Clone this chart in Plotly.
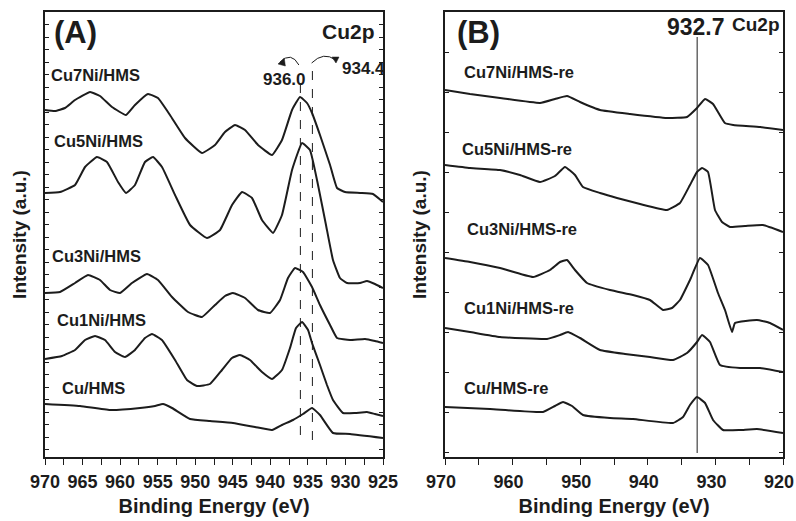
import plotly.graph_objects as go

# ---------------- Panel A data (Binding energy eV, intensity a.u.) ----------------
a_cu7ni_ev = [970.0, 968.67, 967.34, 966.0, 964.0, 962.68, 961.08, 959.22, 958.02, 956.29, 954.96, 953.36,
              951.36, 949.10, 947.37, 946.04, 944.70, 943.37, 941.64, 939.78, 938.45, 937.11, 936.05, 935.12,
              934.45, 933.39, 932.05, 931.12, 930.05, 928.06, 926.33, 925.0]
a_cu7ni_int = [347, 346, 349, 357, 365, 361, 350, 342, 352, 363, 359, 342, 319, 304, 312, 325, 332, 327, 312,
               302, 317, 347, 360, 354, 344, 322, 292, 269, 265, 264, 263, 255]

a_cu5ni_ev = [970.0, 968.0, 966.0, 964.67, 963.08, 961.75, 960.28, 959.22, 958.02, 956.69, 955.62, 954.42,
              952.69, 950.69, 948.43, 946.70, 945.10, 943.77, 942.44, 941.11, 939.64, 938.45, 937.11, 935.78,
              934.72, 933.65, 932.59, 931.66, 930.73, 929.79, 928.06, 927.13, 926.07, 925.0]
a_cu5ni_int = [264, 265, 272, 290, 300, 295, 275, 264, 272, 295, 300, 290, 262, 232, 219, 227, 252, 265, 259,
               237, 224, 242, 287, 314, 307, 272, 232, 197, 179, 174, 174, 176, 173, 169]

a_cu3ni_ev = [970.0, 968.0, 966.0, 964.27, 962.68, 961.35, 960.01, 958.42, 956.42, 954.96, 953.09, 950.96,
              949.10, 947.37, 946.04, 944.97, 943.37, 941.64, 940.04, 938.71, 937.65, 936.71, 935.65, 934.45,
              933.39, 932.05, 931.12, 929.39, 927.39, 926.07, 925.0]
a_cu3ni_int = [164, 165, 174, 182, 177, 167, 164, 174, 183, 177, 160, 145, 140, 152, 161, 164, 159, 147, 144,
               157, 179, 189, 185, 170, 152, 132, 119, 117, 118, 116, 114]

a_cu1ni_ev = [970.0, 967.74, 966.0, 964.67, 963.34, 962.01, 960.68, 959.35, 958.02, 956.69, 955.76, 954.43,
              952.69, 951.10, 949.77, 948.04, 946.44, 945.11, 944.04, 942.71, 941.11, 939.78, 938.45, 937.38,
              936.58, 935.78, 934.98, 934.45, 933.39, 932.46, 931.66, 930.33, 928.73, 927.13, 926.07, 925.0]
a_cu1ni_int = [98, 101, 107, 117, 121, 117, 105, 100, 107, 119, 123, 117, 97, 77, 71, 73, 87, 99, 102, 97, 85,
               78, 87, 109, 129, 135, 127, 114, 92, 72, 57, 44, 44, 45, 43, 41]

a_cu_ev = [970.0, 965.34, 961.35, 957.35, 955.35, 954.29, 953.09, 950.69, 948.03, 944.97, 942.04, 939.78,
           938.45, 936.98, 935.65, 934.45, 933.39, 931.66, 929.39, 925.0]
a_cu_int = [53, 51, 47, 49, 51, 53, 49, 38, 36, 34, 30, 27, 32, 37, 43, 49, 42, 24, 23, 19]

# ---------------- Panel B data ----------------
b_cu7ni_ev = [970.0, 966.30, 961.86, 955.95, 953.73, 951.95, 950.03, 947.07, 942.63, 937.16, 934.20, 932.72,
              931.53, 930.35, 928.60, 927.37, 923.37, 920.0]
b_cu7ni_int = [367, 363, 359, 354, 358, 361, 355, 347, 343, 339, 340, 349, 358, 353, 334, 332, 330, 327]

b_cu5ni_ev = [970.0, 966.30, 961.86, 958.91, 955.95, 953.73, 952.25, 950.77, 949.59, 947.07, 944.56, 941.15,
              937.16, 935.24, 933.76, 932.72, 931.98, 931.09, 930.06, 929.02, 927.84, 925.62, 922.96, 920.0]
b_cu5ni_int = [292, 289, 287, 282, 275, 281, 290, 282, 270, 264, 259, 253, 247, 254, 272, 285, 289, 285, 247,
               235, 230, 231, 232, 225]

b_cu3ni_ev = [970.0, 966.30, 961.86, 956.98, 954.47, 952.99, 951.95, 950.77, 948.99, 945.59, 942.19, 939.68,
              937.75, 936.42, 935.24, 933.76, 932.28, 931.09, 929.62, 928.58, 927.54, 927.10, 923.85, 921.92, 920.0]
b_cu3ni_int = [199, 195, 189, 180, 187, 195, 197, 187, 174, 167, 162, 157, 147, 149, 157, 177, 199, 192, 164,
               147, 125, 134, 137, 134, 127]

b_cu1ni_ev = [970.0, 966.30, 961.86, 954.91, 952.99, 951.80, 950.03, 947.07, 943.37, 939.68, 936.27, 934.20,
              932.72, 931.98, 930.80, 929.32, 926.36, 923.40, 920.0]
b_cu1ni_int = [129, 125, 120, 118, 122, 125, 119, 107, 103, 100, 97, 104, 115, 122, 115, 92, 89, 89, 85]

b_cu_ev = [970.0, 963.34, 955.50, 953.73, 952.54, 951.21, 949.59, 945.59, 942.19, 936.27, 934.79, 933.76,
           932.72, 931.53, 930.35, 928.88, 926.36, 923.85, 920.0]
b_cu_int = [50, 48, 45, 51, 55, 51, 42, 39, 38, 34, 40, 52, 60, 54, 37, 27, 27, 28, 24]

# labels
a_labels = ["Cu7Ni/HMS", "Cu5Ni/HMS", "Cu3Ni/HMS", "Cu1Ni/HMS", "Cu/HMS"]
b_labels = ["Cu7Ni/HMS-re", "Cu5Ni/HMS-re", "Cu3Ni/HMS-re", "Cu1Ni/HMS-re", "Cu/HMS-re"]
a_label_pos = [(969.47, 382), (969.07, 316), (969.33, 201), (968.67, 137), (968.0, 69)]
b_label_pos = [(967.49, 385), (967.78, 308), (967.04, 228), (967.49, 149), (967.49, 69)]
a_lines = [936.0, 934.4]
b_line = 932.7

FONT = "Liberation Sans, Arial, sans-serif"
INK = "#1c1c1c"

fig = go.Figure()

a_series = [(a_cu7ni_ev, a_cu7ni_int), (a_cu5ni_ev, a_cu5ni_int), (a_cu3ni_ev, a_cu3ni_int),
            (a_cu1ni_ev, a_cu1ni_int), (a_cu_ev, a_cu_int)]
b_series = [(b_cu7ni_ev, b_cu7ni_int), (b_cu5ni_ev, b_cu5ni_int), (b_cu3ni_ev, b_cu3ni_int),
            (b_cu1ni_ev, b_cu1ni_int), (b_cu_ev, b_cu_int)]

for (xs, ys), name in zip(a_series, a_labels):
    fig.add_trace(go.Scatter(x=xs, y=ys, mode="lines", name=name, xaxis="x", yaxis="y",
                             line=dict(color=INK, width=2, shape="spline", smoothing=0.35),
                             showlegend=False))
for (xs, ys), name in zip(b_series, b_labels):
    fig.add_trace(go.Scatter(x=xs, y=ys, mode="lines", name=name, xaxis="x2", yaxis="y2",
                             line=dict(color=INK, width=2, shape="spline", smoothing=0.35),
                             showlegend=False))

W, H = 796, 521
domA = [45 / W, 383 / W]
domB = [445 / W, 783 / W]
domY = [1 - 457 / H, 1 - 12 / H]

tickfont = dict(family=FONT, size=18, color=INK, weight="bold")
titlefont = dict(family=FONT, size=20, color=INK, weight="bold")


def xaxis(dom, rng, dtick, minor, shift=0):
    return dict(domain=dom, range=rng, showgrid=False, zeroline=False, showline=True, linecolor=INK,
                linewidth=1.5, ticks="outside", ticklen=6, tickwidth=1.2, tickcolor=INK, dtick=dtick,
                tick0=970, tickfont=tickfont, ticklabelstandoff=2, automargin=False,
                ticklabeloverflow="allow", ticklabelshift=shift,
                minor=dict(dtick=minor, tick0=970, ticks="outside", ticklen=6, tickwidth=1.2, tickcolor=INK,
                           showgrid=False),
                title=dict(text="Binding Energy (eV)", font=titlefont, standoff=8), mirror=True)


def topaxis(over, dom, rng, dt):
    return dict(domain=dom, range=rng, overlaying=over, side="top", showgrid=False, zeroline=False,
                showline=False, ticks="inside", ticklen=4, tickwidth=1, tickcolor=INK, dtick=dt, tick0=970,
                showticklabels=False, automargin=False)


def yaxis(anchor, dt, t0):
    return dict(domain=domY, range=[0, 445], anchor=anchor, showgrid=False, zeroline=False, showline=True,
                linecolor=INK, linewidth=1.5, mirror="ticks", ticks="inside", ticklen=4, tickwidth=1,
                tickcolor=INK, dtick=dt, tick0=t0, showticklabels=False, automargin=False,
                title=dict(text="Intensity (a.u.)", font=dict(family=FONT, size=19, color=INK, weight="bold"),
                           standoff=12))


fig.update_layout(
    width=W, height=H, margin=dict(l=0, r=0, t=0, b=0, autoexpand=False),
    paper_bgcolor="white", plot_bgcolor="white",
    xaxis=xaxis(domA, [970, 925], 5, 2.5) | dict(anchor="y"),
    xaxis2=xaxis(domB, [970, 920], 10, 5, shift=4) | dict(anchor="y2"),
    xaxis3=topaxis("x", domA, [970, 925], 2.5) | dict(anchor="y"),
    xaxis4=topaxis("x2", domB, [970, 920], 5) | dict(anchor="y2"),
    yaxis=yaxis("x", 12.5, 7.5),
    yaxis2=yaxis("x2", 40, 5),
)

# reference lines
shapes = []
shapes.append(dict(type="line", xref="x", yref="y", x0=a_lines[0], x1=a_lines[0], y0=22, y1=372,
                   line=dict(color=INK, width=1, dash="dash")))
shapes.append(dict(type="line", xref="x", yref="y", x0=a_lines[1], x1=a_lines[1], y0=17, y1=394,
                   line=dict(color=INK, width=1, dash="dash")))
shapes.append(dict(type="line", xref="x2", yref="y2", x0=b_line, x1=b_line, y0=4, y1=420,
                   line=dict(color=INK, width=1)))
# curved arrows in panel A
shapes.append(dict(type="path", xref="x", yref="y", path="M 936.2,392 Q 937.2,406 938.7,395",
                   line=dict(color=INK, width=1)))
shapes.append(dict(type="path", xref="x", yref="y", path="M 938.98,393 L 938.15,399 L 938.0,391 Z",
                   fillcolor=INK, line=dict(color=INK, width=0.5)))
shapes.append(dict(type="path", xref="x", yref="y", path="M 934.5,394 Q 932.9,406 931.3,397",
                   line=dict(color=INK, width=1)))
shapes.append(dict(type="path", xref="x", yref="y", path="M 931.26,394 L 931.79,400 L 930.86,400 Z",
                   fillcolor=INK, line=dict(color=INK, width=0.5)))
fig.update_layout(shapes=shapes)

anns = []
lab_font = dict(family=FONT, size=16.5, color=INK, weight="bold")
for txt, (x, y) in zip(a_labels, a_label_pos):
    anns.append(dict(text=txt, x=x, y=y, xref="x", yref="y", xanchor="left", yanchor="middle",
                     showarrow=False, font=lab_font))
for txt, (x, y) in zip(b_labels, b_label_pos):
    anns.append(dict(text=txt, x=x, y=y, xref="x2", yref="y2", xanchor="left", yanchor="middle",
                     showarrow=False, font=lab_font))
anns += [
    dict(text="(A)", x=969.07, y=424, xref="x", yref="y", xanchor="left", yanchor="middle", showarrow=False,
         font=dict(family=FONT, size=31, color=INK, weight="bold")),
    dict(text="Cu2p", x=925.8, y=425, xref="x", yref="y", xanchor="right", yanchor="middle", showarrow=False,
         font=dict(family=FONT, size=21, color=INK, weight="bold")),
    dict(text="936.0", x=938.05, y=377, xref="x", yref="y", xanchor="center", yanchor="middle",
         showarrow=False, font=dict(family=FONT, size=17, color=INK, weight="bold")),
    dict(text="934.4", x=930.72, y=388, xref="x", yref="y", xanchor="left", yanchor="middle",
         showarrow=False, font=dict(family=FONT, size=17, color=INK, weight="bold")),
    dict(text="(B)", x=968.52, y=424, xref="x2", yref="y2", xanchor="left", yanchor="middle", showarrow=False,
         font=dict(family=FONT, size=31, color=INK, weight="bold")),
    dict(text="932.7", x=932.87, y=430, xref="x2", yref="y2", xanchor="center", yanchor="middle",
         showarrow=False, font=dict(family=FONT, size=23, color=INK, weight="bold")),
    dict(text="Cu2p", x=927.84, y=432, xref="x2", yref="y2", xanchor="left", yanchor="middle",
         showarrow=False, font=dict(family=FONT, size=19, color=INK, weight="bold")),
]
fig.update_layout(annotations=anns)

fig.write_html("out.html")
